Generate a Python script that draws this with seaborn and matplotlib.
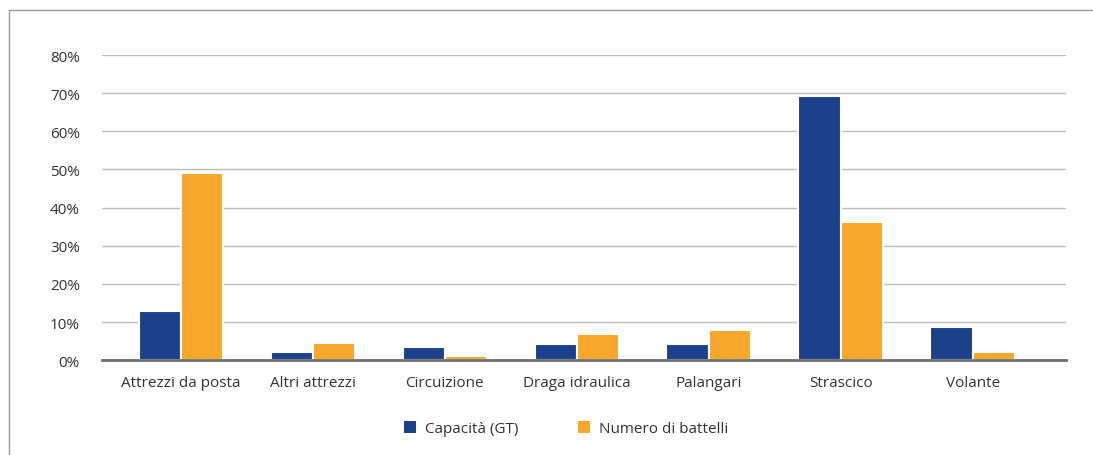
import pandas as pd
import numpy as np
import matplotlib
matplotlib.use("Agg")
import matplotlib.pyplot as plt
import seaborn as sns
from matplotlib.lines import Line2D
from matplotlib.patches import Patch

categories = ["Attrezzi da posta", "Altri attrezzi", "Circuizione", "Draga idraulica",
              "Palangari", "Strascico", "Volante"]
capacita = [12.9, 2.1, 3.4, 4.2, 4.2, 69.3, 8.7]
battelli = [49.1, 4.5, 1.0, 6.8, 7.9, 36.1, 2.1]
series = ["Capacità (GT)", "Numero di battelli"]
colors = ["#1c418a", "#f7a72b"]
yticks = [0, 10, 20, 30, 40, 50, 60, 70, 80]

df = pd.DataFrame({
    "Categoria": categories * 2,
    "Serie": [series[0]] * len(categories) + [series[1]] * len(categories),
    "Valore": capacita + battelli,
})

sns.set_style("white")
plt.rcParams["font.family"] = ["Open Sans", "DejaVu Sans"]

fig = plt.figure(figsize=(10.93, 4.56), dpi=100)
ax = fig.add_axes([0.0933, 0.208, 0.8817, 0.669])

sns.barplot(data=df, x="Categoria", y="Valore", hue="Serie", palette=colors,
            saturation=1, width=0.64, edgecolor="white", linewidth=1.5, ax=ax,
            legend=False)

ax.set_ylim(0, 80)
ax.set_xlim(-0.598, 6.705)
ax.set_yticks(yticks)
ax.set_yticklabels([f"{t}%" for t in yticks], fontsize=11, color="#333333")
ax.tick_params(axis="x", labelsize=11, colors="#333333", length=0, pad=11)
ax.tick_params(axis="y", length=0, pad=16)
ax.set_xlabel("")
ax.set_ylabel("")
ax.yaxis.grid(True, color="#bdbdbd", linewidth=1)
ax.set_axisbelow(True)
for s in ["top", "right", "left"]:
    ax.spines[s].set_visible(False)
ax.spines["bottom"].set_color("#6e6e6e")
ax.spines["bottom"].set_linewidth(2)

handles = [Patch(facecolor=c, edgecolor="none") for c in colors]
fig.legend(handles, series, loc="center", bbox_to_anchor=(0.518, 0.058), ncol=2,
           frameon=False, fontsize=11, handlelength=0.8, handleheight=0.8,
           columnspacing=3.85, handletextpad=0.6, labelcolor="#333333")

# frame around the chart
fig.add_artist(Line2D([9 / 1093, 9 / 1093], [0, 1 - 11 / 456], transform=fig.transFigure,
                      color="#9a9a9a", linewidth=1))
fig.add_artist(Line2D([9 / 1093, 1], [1 - 11 / 456, 1 - 11 / 456], transform=fig.transFigure,
                      color="#9a9a9a", linewidth=1))

fig.savefig("out.png", dpi=100)
